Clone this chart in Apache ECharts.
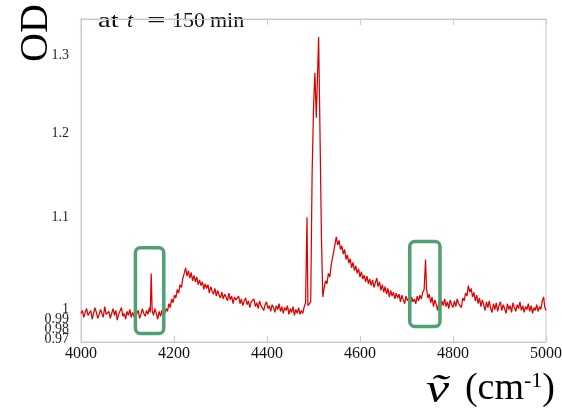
<!DOCTYPE html>
<html><head><meta charset="utf-8">
<script src="https://cdn.jsdelivr.net/npm/echarts@6/dist/echarts.min.js"></script>
<style>html,body{margin:0;padding:0;background:#fff}#c{width:562px;height:411px}</style>
</head><body><div id="c"></div>
<script>
// [wavenumber (cm-1), OD]
const spectrum = [
[4000,0.996],[4003,0.999],[4006,0.992],[4009,0.997],[4012,1.001],[4015,0.994],[4018,0.993],[4021,0.999],[4024,0.990],[4027,0.996],
[4030,1.002],[4033,0.997],[4036,0.991],[4039,0.995],[4042,1.000],[4045,0.998],[4048,0.992],[4051,1.003],[4054,0.995],[4057,0.993],
[4060,0.998],[4063,0.991],[4066,0.996],[4069,1.001],[4072,0.994],[4075,0.999],[4078,0.989],[4081,0.995],[4084,0.997],[4087,1.002],
[4090,0.993],[4093,0.996],[4096,0.990],[4099,0.998],[4102,0.994],[4105,1.000],[4108,0.992],[4111,0.997],[4114,0.993],[4117,0.988],
[4120,0.996],[4123,0.999],[4126,0.991],[4129,0.995],[4132,1.001],[4135,0.996],[4138,0.993],[4141,0.999],[4144,0.995],[4147,1.002],
[4149,0.997],[4151,1.038],[4153,0.999],[4156,0.994],[4159,1.001],[4162,0.996],[4165,0.990],[4168,0.998],[4171,0.993],[4174,0.999],
[4177,0.991],[4180,0.996],[4183,1.001],[4186,0.998],[4189,1.006],[4192,1.002],[4195,1.011],[4198,1.007],[4201,1.015],[4204,1.012],
[4207,1.021],[4210,1.017],[4213,1.026],[4216,1.023],[4219,1.033],[4222,1.038],[4225,1.044],[4228,1.035],[4231,1.041],[4234,1.033],
[4237,1.039],[4240,1.030],[4243,1.036],[4246,1.029],[4249,1.034],[4252,1.026],[4255,1.031],[4258,1.025],[4261,1.029],[4264,1.021],
[4267,1.027],[4270,1.022],[4273,1.026],[4276,1.017],[4279,1.024],[4282,1.019],[4285,1.016],[4288,1.022],[4291,1.014],[4294,1.020],
[4297,1.015],[4300,1.012],[4303,1.018],[4306,1.011],[4309,1.016],[4312,1.013],[4315,1.009],[4318,1.017],[4321,1.010],[4324,1.014],
[4327,1.006],[4330,1.013],[4333,1.010],[4336,1.008],[4339,1.014],[4342,1.006],[4345,1.011],[4348,1.004],[4351,1.009],[4354,1.012],
[4357,1.005],[4360,1.009],[4363,1.002],[4366,1.008],[4369,1.006],[4372,1.011],[4375,1.003],[4378,1.007],[4381,1.001],[4384,1.009],
[4387,1.004],[4390,1.006],[4393,0.999],[4396,1.005],[4399,1.008],[4402,1.001],[4405,1.004],[4408,0.998],[4411,1.005],[4414,1.002],
[4417,0.997],[4420,1.004],[4423,1.000],[4426,1.006],[4429,0.998],[4432,1.003],[4435,0.996],[4438,1.002],[4441,0.999],[4444,1.004],
[4447,0.995],[4450,1.001],[4453,0.997],[4456,1.003],[4459,0.994],[4462,1.000],[4465,0.996],[4468,1.002],[4471,0.995],[4474,0.999],
[4477,0.996],[4480,1.003],[4483,1.007],[4486,1.100],[4488,1.004],[4491,1.003],[4494,1.008],[4497,1.150],[4500,1.230],[4503,1.277],
[4506,1.219],[4508,1.260],[4511,1.325],[4514,1.200],[4517,1.080],[4520,1.013],[4523,1.023],[4526,1.030],[4529,1.027],[4532,1.038],
[4535,1.034],[4538,1.047],[4541,1.055],[4544,1.063],[4547,1.072],[4549,1.078],[4552,1.069],[4555,1.074],[4558,1.064],[4561,1.068],
[4564,1.059],[4567,1.064],[4570,1.053],[4573,1.058],[4576,1.049],[4579,1.054],[4582,1.044],[4585,1.050],[4588,1.041],[4591,1.046],
[4594,1.038],[4597,1.043],[4600,1.034],[4603,1.040],[4606,1.032],[4609,1.036],[4612,1.029],[4615,1.035],[4618,1.027],[4621,1.032],
[4624,1.025],[4627,1.031],[4630,1.023],[4633,1.028],[4636,1.033],[4639,1.024],[4642,1.029],[4645,1.020],[4648,1.026],[4651,1.018],
[4654,1.024],[4657,1.016],[4660,1.022],[4663,1.013],[4666,1.020],[4669,1.014],[4672,1.018],[4675,1.011],[4678,1.017],[4681,1.012],
[4684,1.016],[4687,1.008],[4690,1.015],[4693,1.010],[4696,1.006],[4699,1.014],[4702,1.009],[4705,1.012],[4708,1.004],[4711,1.013],
[4714,1.008],[4717,1.011],[4720,1.006],[4723,1.014],[4726,1.009],[4729,1.015],[4732,1.011],[4735,1.018],[4738,1.021],[4741,1.053],
[4743,1.022],[4746,1.012],[4749,1.016],[4752,1.007],[4755,1.013],[4758,1.003],[4761,1.010],[4764,1.005],[4767,0.999],[4770,1.008],
[4773,1.002],[4776,1.009],[4779,1.004],[4782,1.011],[4785,1.003],[4788,1.008],[4791,1.001],[4794,1.010],[4797,1.005],[4800,1.002],
[4803,1.009],[4806,1.003],[4809,1.011],[4812,1.006],[4815,1.008],[4818,1.002],[4821,1.012],[4824,1.009],[4827,1.017],[4830,1.014],
[4833,1.025],[4836,1.018],[4839,1.022],[4842,1.013],[4845,1.018],[4848,1.009],[4851,1.015],[4854,1.006],[4857,1.012],[4860,1.003],
[4863,1.010],[4866,1.005],[4869,0.999],[4872,1.008],[4875,1.002],[4878,1.009],[4881,1.001],[4884,0.997],[4887,1.006],[4890,1.000],
[4893,1.007],[4896,0.998],[4899,1.004],[4902,1.008],[4905,0.999],[4908,1.005],[4911,1.001],[4914,0.996],[4917,1.006],[4920,1.000],
[4923,1.004],[4926,0.997],[4929,1.007],[4932,1.002],[4935,0.998],[4938,1.005],[4941,1.001],[4944,1.008],[4947,0.999],[4950,1.004],
[4953,0.997],[4956,1.003],[4959,1.000],[4962,1.006],[4965,0.998],[4968,1.004],[4971,0.996],[4974,1.002],[4977,0.999],[4980,1.005],
[4983,0.998],[4986,1.003],[4989,1.000],[4992,1.009],[4995,1.013],[4997,1.003],[5000,0.999]
];
const xTicks = [4000,4200,4400,4600,4800,5000];
// y tick labels, split into groups so that the crowded ones near 1 are all kept
const yTickLabelsMain = [0.97,1,1.1,1.2,1.3];
const yTickLabel098 = [0.98];
const yTickLabel099 = [0.99];
// highlight boxes: [xFrom, xTo, odFrom, odTo]
const highlightBoxes = [[4117,4178,0.9756,1.0658],[4707,4772,0.9827,1.0729]];

const axisColor = '#c9c9dc';
const serif = '"Liberation Serif","DejaVu Serif",serif';
const yMin = 0.967, yMax = 1.35;
function yAxisDef(vals, showLine){
  return {
    type:'log',logBase:10,min:yMin,max:yMax,position:'left',offset:0,
    axisLine:{show:showLine,lineStyle:{color:axisColor}},
    axisTick:{show:false},splitLine:{show:false},
    axisLabel:{customValues:vals,color:'#222',fontFamily:serif,fontSize:14,margin:12,hideOverlap:false,
      formatter:v=>String(Math.round(v*100)/100)}
  };
}
const chart = echarts.init(document.getElementById('c'), null, {renderer:'canvas'});
chart.setOption({
  animation:false,
  grid:{left:81,right:16,top:19,bottom:69,show:true,borderColor:axisColor,borderWidth:1,
    containLabel:false,outerBoundsMode:'none'},
  xAxis:[{
    type:'value',min:xTicks[0],max:xTicks[xTicks.length-1],interval:200,
    axisLine:{lineStyle:{color:axisColor}},
    axisTick:{show:true,inside:true,length:6,lineStyle:{color:axisColor}},
    axisLabel:{color:'#111',fontFamily:serif,fontSize:16,margin:4,formatter:v=>String(v),hideOverlap:false},
    splitLine:{show:false}
  },{
    type:'value',position:'top',min:xTicks[0],max:xTicks[xTicks.length-1],interval:200,
    axisLine:{lineStyle:{color:axisColor}},
    axisTick:{show:true,inside:true,length:6,lineStyle:{color:axisColor}},
    axisLabel:{show:false},splitLine:{show:false}
  }],
  yAxis:[yAxisDef(yTickLabelsMain,true), yAxisDef(yTickLabel098,false), yAxisDef(yTickLabel099,false)],
  series:[{
    type:'line',data:spectrum,showSymbol:false,symbol:'none',
    lineStyle:{color:'#dd0000',width:1.25},xAxisIndex:0,yAxisIndex:0
  }]
});

const g = [];
highlightBoxes.forEach(b=>{
  const p1 = chart.convertToPixel({seriesIndex:0},[b[0],b[3]]);
  const p2 = chart.convertToPixel({seriesIndex:0},[b[1],b[2]]);
  g.push({type:'rect',shape:{x:p1[0],y:p1[1],width:p2[0]-p1[0],height:p2[1]-p1[1],r:5},
    style:{fill:'none',stroke:'#4fa173',lineWidth:3.5},z:10});
});
g.push({type:'text',rotation:Math.PI/2,x:36,y:33,style:{text:'OD',font:'40px '+serif,fill:'#000',align:'center',verticalAlign:'middle'}});
const tf = '22px '+serif;
const ty = 32;
g.push({type:'text',x:98,y:ty,scaleX:1.3,style:{text:'at',font:tf,fill:'#111',verticalAlign:'bottom'}});
g.push({type:'text',x:127,y:ty,style:{text:'t',font:'italic '+tf,fill:'#111',verticalAlign:'bottom'}});
g.push({type:'text',x:147,y:ty,scaleX:1.5,style:{text:'=',font:tf,fill:'#111',verticalAlign:'bottom'}});
g.push({type:'text',x:172,y:ty,style:{text:'150',font:tf,fill:'#111',verticalAlign:'bottom'}});
g.push({type:'text',x:210,y:ty,style:{text:'min',font:tf,fill:'#111',verticalAlign:'bottom'}});
g.push({type:'text',x:426,y:411,scaleX:1.3,style:{text:'ṽ',font:'italic 40px '+serif,fill:'#000',verticalAlign:'bottom'}});
g.push({type:'text',right:7,top:370,style:{rich:{
  n:{fontFamily:serif,fontSize:38,fill:'#000'},
  s:{fontFamily:serif,fontSize:22,fill:'#000',verticalAlign:'top',padding:[0,0,16,0]}},
  text:'{n|(cm}{s|-1}{n|)}'}});
chart.setOption({graphic:g});
</script></body></html>
